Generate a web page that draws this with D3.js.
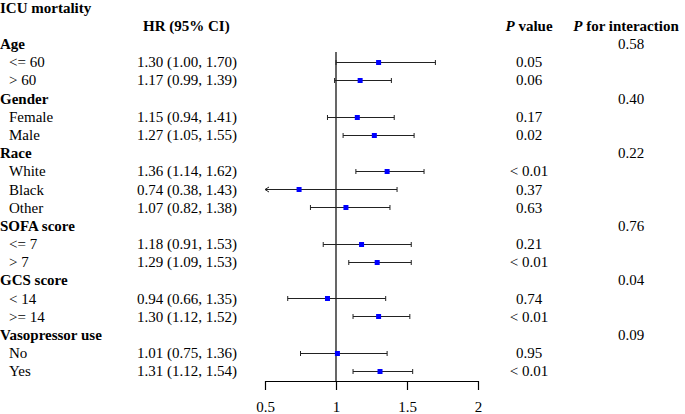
<!DOCTYPE html>
<html>
<head>
<meta charset="utf-8">
<script src="https://cdn.jsdelivr.net/npm/d3@7"></script>
<style>
  body { margin: 0; background: #fff; }
  svg text { font-family: "Liberation Serif", "Times New Roman", serif; font-size: 15px; fill: #000; }
</style>
</head>
<body>
<svg id="chart"></svg>
<script>
// forest plot: ICU mortality by subgroup

// group headers and p for interaction
const groups = ["Age", "Gender", "Race", "SOFA score", "GCS score", "Vasopressor use"]
const pInteraction = ["0.58", "0.40", "0.22", "0.76", "0.04", "0.09"]

// subgroup rows
const subgroups = ["<= 60", "> 60", "Female", "Male", "White", "Black", "Other",
                   "<= 7", "> 7", "< 14", ">= 14", "No", "Yes"]
const groupIndex = [0, 0, 1, 1, 2, 2, 2, 3, 3, 4, 4, 5, 5]
const hr    = [1.30, 1.17, 1.15, 1.27, 1.36, 0.74, 1.07, 1.18, 1.29, 0.94, 1.30, 1.01, 1.31]
const lower = [1.00, 0.99, 0.94, 1.05, 1.14, 0.38, 0.82, 0.91, 1.09, 0.66, 1.12, 0.75, 1.12]
const upper = [1.70, 1.39, 1.41, 1.55, 1.62, 1.43, 1.38, 1.53, 1.53, 1.35, 1.52, 1.36, 1.54]
const pValue = ["0.05", "0.06", "0.17", "0.02", "< 0.01", "0.37", "0.63",
                "0.21", "< 0.01", "0.74", "< 0.01", "0.95", "< 0.01"]

// axis ticks
const xTicks = [0.5, 1, 1.5, 2]

let svg = {width: 685, height: 414}
let frame = d3.select('#chart')
  .attr('width', svg.width)
  .attr('height', svg.height)

// build the flat row list: title, column header, then group + subgroup rows
let rows = []
groups.forEach(function(g, gi) {
  rows.push({type: 'group', label: g, pint: pInteraction[gi]})
  subgroups.forEach(function(s, i) {
    if (groupIndex[i] == gi) {
      rows.push({type: 'sub', label: s, hr: hr[i], lo: lower[i], hi: upper[i], p: pValue[i]})
    }
  })
})

// row positions (row 0 = title, row 1 = header)
let y = d3.scaleLinear().domain([0, rows.length + 1]).range([7.5, 371])
let x = d3.scaleLinear().domain([0.5, 2]).range([265, 478])

let col = {label: 0, sub: 9, hr: 137, p: 529, pint: 631}

// title + headers
frame.append('text')
  .attr('x', 0).attr('y', y(0)).attr('dy', '0.35em')
  .attr('font-weight', 'bold')
  .text('ICU mortality')

frame.append('text')
  .attr('x', 143).attr('y', y(1)).attr('dy', '0.35em')
  .attr('font-weight', 'bold')
  .text('HR (95% CI)')

let pHead = frame.append('text')
  .attr('x', col.p).attr('y', y(1)).attr('dy', '0.35em')
  .attr('text-anchor', 'middle')
  .attr('font-weight', 'bold')
pHead.append('tspan').attr('font-style', 'italic').text('P')
pHead.append('tspan').text(' value')

let piHead = frame.append('text')
  .attr('x', 626).attr('y', y(1)).attr('dy', '0.35em')
  .attr('text-anchor', 'middle')
  .attr('font-weight', 'bold')
piHead.append('tspan').attr('font-style', 'italic').text('P')
piHead.append('tspan').text(' for interaction')

// rows of text
rows.forEach(function(d, i) {
  let yy = y(i + 2)
  if (d.type == 'group') {
    frame.append('text')
      .attr('x', col.label).attr('y', yy).attr('dy', '0.35em')
      .attr('font-weight', 'bold')
      .text(d.label)
    frame.append('text')
      .attr('x', col.pint).attr('y', yy).attr('dy', '0.35em')
      .attr('text-anchor', 'middle')
      .text(d.pint)
  } else {
    frame.append('text')
      .attr('x', col.sub).attr('y', yy).attr('dy', '0.35em')
      .text(d.label)
    frame.append('text')
      .attr('x', col.hr).attr('y', yy).attr('dy', '0.35em')
      .text(d.hr.toFixed(2) + ' (' + d.lo.toFixed(2) + ', ' + d.hi.toFixed(2) + ')')
    frame.append('text')
      .attr('x', col.p).attr('y', yy).attr('dy', '0.35em')
      .attr('text-anchor', 'middle')
      .text(d.p)
  }
})

// axis
let axisY = 381
let axis = frame.append('g')
  .attr('transform', 'translate(0,' + axisY + ')')
  .call(d3.axisBottom(x).tickValues(xTicks).tickSize(9).tickSizeOuter(0)
          .tickFormat(d => String(d)))
axis.select('.domain').attr('stroke', '#000').attr('stroke-width', 1.2)
axis.selectAll('.tick line').attr('stroke', '#000').attr('stroke-width', 1.2)
axis.selectAll('.tick text')
  .attr('y', 20)
  .attr('font-size', 15)
  .attr('font-family', '"Liberation Serif", serif')

// reference line at HR = 1
frame.append('line')
  .attr('x1', x(1)).attr('x2', x(1))
  .attr('y1', 52).attr('y2', axisY)
  .attr('stroke', '#000').attr('stroke-width', 1.2)

// CI lines, caps and points
let xmin = x.domain()[0], xmax = x.domain()[1]
rows.forEach(function(d, i) {
  if (d.type != 'sub') return
  let yy = Math.round(y(i + 2)) + 0.5
  let lo = Math.max(d.lo, xmin), hi = Math.min(d.hi, xmax)
  frame.append('line')
    .attr('x1', x(lo)).attr('x2', x(hi))
    .attr('y1', yy).attr('y2', yy)
    .attr('stroke', '#222').attr('stroke-width', 1)
  // caps or arrows at each end
  if (d.lo >= xmin) {
    frame.append('line')
      .attr('x1', x(lo)).attr('x2', x(lo))
      .attr('y1', yy - 2.5).attr('y2', yy + 2.5)
      .attr('stroke', '#222')
  } else {
    frame.append('path')
      .attr('d', 'M' + (x(lo) + 4) + ',' + (yy - 2.5) + 'L' + x(lo) + ',' + yy + 'L' + (x(lo) + 4) + ',' + (yy + 2.5))
      .attr('fill', 'none').attr('stroke', '#222')
  }
  if (d.hi <= xmax) {
    frame.append('line')
      .attr('x1', x(hi)).attr('x2', x(hi))
      .attr('y1', yy - 2.5).attr('y2', yy + 2.5)
      .attr('stroke', '#222')
  }
  frame.append('rect')
    .attr('x', x(d.hr) - 2.5).attr('y', yy - 2.5)
    .attr('width', 5).attr('height', 5)
    .attr('fill', '#0000ff')
})
</script>
</body>
</html>
